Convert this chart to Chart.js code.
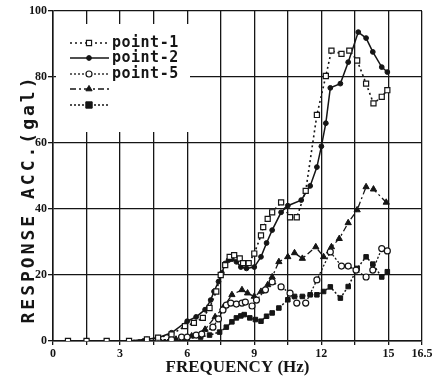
<!DOCTYPE html>
<html>
<head>
<meta charset="utf-8">
<script src="https://cdn.jsdelivr.net/npm/chart.js@4.4.0/dist/chart.umd.min.js"></script>
<style>
  body { margin: 0; background: #fff; }
  #wrap { width: 437px; height: 383px; }
</style>
</head>
<body>
<div id="wrap"><canvas id="myChart" width="437" height="383"></canvas></div>
<script>
// frequency (Hz) / response acc. (gal)
var hz1 = [0.67, 1.5, 2.4, 3.4, 4.2, 4.7, 5.3, 5.9, 6.3, 6.7, 7.0, 7.3, 7.5, 7.7, 7.9, 8.1, 8.35, 8.5, 8.75, 9.0, 9.3, 9.4, 9.6, 9.8, 10.2, 10.6, 10.9, 11.3, 11.8, 12.2, 12.45, 12.9, 13.25, 13.6, 14.0, 14.33, 14.7, 14.95];
var acc1 = [0, 0, 0, 0, 0.5, 1, 2, 4.5, 5.5, 7, 10, 15, 20, 23, 25.5, 26, 25, 23.6, 23.6, 26.5, 32, 34.5, 37, 39, 42, 37.5, 37.5, 45.5, 68.5, 80.3, 88, 87, 88, 85, 78, 72, 74, 76];

var hz2 = [0.67, 1.5, 2.4, 3.4, 4.2, 4.7, 5.3, 6.0, 6.4, 6.8, 7.05, 7.2, 7.4, 7.55, 7.7, 7.85, 8.0, 8.2, 8.4, 8.65, 9.0, 9.3, 9.55, 9.8, 10.2, 10.5, 11.1, 11.5, 11.8, 12.0, 12.2, 12.4, 12.85, 13.2, 13.65, 14.0, 14.3, 14.7, 14.95];
var acc2 = [0, 0, 0, 0, 0.5, 1, 2.5, 6, 7.3, 9.5, 12.4, 15, 18, 20.6, 23.5, 24.5, 24.8, 24, 22.4, 22, 22.4, 25.5, 29.7, 33.6, 39, 41, 42.7, 47, 52.7, 59, 66, 76.7, 78, 84.5, 93.6, 91.8, 87.6, 83, 81.5];

var hz5 = [4.2, 4.7, 5.3, 5.75, 6.0, 6.4, 6.65, 7.15, 7.4, 7.6, 7.75, 7.95, 8.2, 8.45, 8.6, 8.9, 9.1, 9.5, 9.8, 10.2, 10.6, 10.9, 11.3, 11.8, 12.4, 12.9, 13.2, 13.55, 14.0, 14.3, 14.7, 14.95];
var acc5 = [0, 0, 0.5, 1.2, 1.2, 1.8, 2.1, 4.2, 6.7, 9.4, 10.9, 11.5, 11.2, 11.5, 11.8, 10.6, 12.4, 15.5, 17.9, 16.4, 14.5, 11.5, 11.5, 18.5, 27, 22.7, 22.7, 21.5, 19.4, 21.5, 28, 27.3];

var hzTri = [4.7, 5.5, 6.2, 6.8, 7.25, 7.6, 8.0, 8.45, 8.7, 9.0, 9.3, 9.6, 9.8, 10.1, 10.5, 10.8, 11.15, 11.75, 12.1, 12.45, 12.8, 13.2, 13.6, 14.0, 14.33, 14.9];
var accTri = [0, 0.5, 1.5, 3.5, 7.3, 10, 14, 15.5, 14.5, 13.5, 15, 17, 19.4, 24, 25.5, 26.7, 25, 28.5, 25.5, 28.5, 31, 35.8, 39.7, 46.7, 46, 42];

var hzSq = [0.67, 1.5, 2.4, 3.4, 4.1, 4.7, 5.3, 6.0, 6.6, 7.0, 7.45, 7.75, 8.0, 8.2, 8.4, 8.55, 8.8, 9.05, 9.3, 9.55, 9.8, 10.1, 10.5, 10.8, 11.15, 11.5, 11.8, 12.1, 12.4, 12.85, 13.2, 13.6, 14.0, 14.3, 14.7, 14.95];
var accSq = [0, 0, 0, 0, 0, 0.3, 0.5, 0.8, 1.2, 1.8, 2.7, 4.2, 5.8, 7, 7.6, 8, 7, 6.5, 6, 7.5, 8.5, 10, 12.5, 13.5, 13.5, 14, 14, 15, 16.4, 13, 16.5, 22, 25.5, 23.3, 19.4, 21];

var seriesNames = ['point-1', 'point-2', 'point-5', '', ''];
var xGridHz = [0, 1.5, 3, 4.5, 6, 7.5, 9, 10.5, 12, 13.5, 15, 16.5];
var xLabelHz = [0, 3, 6, 9, 12, 15, 16.5];
var yTicks = [0, 20, 40, 60, 80, 100];

var INK = '#151515';

function pts(xs, ys) {
    return xs.map(function (x, i) { return { x: x, y: ys[i] }; });
}

// legend sits inside the plot, on a white patch
var legendBox = {
    id: 'legendBox',
    beforeDatasetsDraw: function (chart) {
        var ctx = chart.ctx;
        ctx.save();
        ctx.fillStyle = '#fff';
        ctx.fillRect(56, 24, 134, 108);
        var rows = [43, 58, 74, 89, 105];
        chart.data.datasets.forEach(function (ds, i) {
            var y = rows[i];
            ctx.strokeStyle = INK;
            ctx.lineWidth = ds.borderWidth;
            ctx.setLineDash(ds.borderDash || []);
            ctx.beginPath();
            ctx.moveTo(70, y);
            ctx.lineTo(109, y);
            ctx.stroke();
            ctx.setLineDash([]);
            ctx.fillStyle = ds.pointBackgroundColor;
            ctx.strokeStyle = INK;
            ctx.lineWidth = ds.pointBorderWidth;
            Chart.helpers.drawPoint(ctx, {
                pointStyle: ds.pointStyle,
                radius: i === 4 ? 4.5 : ds.pointRadius,
                rotation: 0,
                borderWidth: ds.pointBorderWidth
            }, 89, y);
            if (seriesNames[i]) {
                ctx.fillStyle = INK;
                ctx.font = 'bold 15px "DejaVu Sans Mono"';
                ctx.letterSpacing = '0.5px';
                ctx.textBaseline = 'middle';
                ctx.textAlign = 'left';
                ctx.fillText(seriesNames[i], 112, y);
            }
        });
        ctx.restore();
    }
};

// rotated y title, letter spaced like the original
var yTitle = {
    id: 'yTitle',
    afterDraw: function (chart) {
        var ctx = chart.ctx;
        ctx.save();
        ctx.translate(29, 199);
        ctx.rotate(-Math.PI / 2);
        ctx.font = 'bold 18px "DejaVu Sans Mono"';
        ctx.letterSpacing = '3px';
        ctx.fillStyle = INK;
        ctx.textAlign = 'center';
        ctx.textBaseline = 'middle';
        ctx.fillText('RESPONSE ACC.(gal)', 0, 0);
        ctx.restore();
    }
};

var ctx = document.getElementById('myChart').getContext('2d');
var myChart = new Chart(ctx, {
    type: 'line',
    data: {
        datasets: [{
            label: seriesNames[0],
            data: pts(hz1, acc1),
            borderColor: INK,
            borderWidth: 1.6,
            borderDash: [2, 3],
            pointStyle: 'rect',
            pointRadius: 3.6,
            pointBackgroundColor: '#fff',
            pointBorderColor: INK,
            pointBorderWidth: 1.2
        }, {
            label: seriesNames[1],
            data: pts(hz2, acc2),
            borderColor: INK,
            borderWidth: 1.5,
            borderDash: [],
            pointStyle: 'circle',
            pointRadius: 2.4,
            pointBackgroundColor: INK,
            pointBorderColor: INK,
            pointBorderWidth: 1
        }, {
            label: seriesNames[2],
            data: pts(hz5, acc5),
            borderColor: INK,
            borderWidth: 1.3,
            borderDash: [2, 2],
            pointStyle: 'circle',
            pointRadius: 3,
            pointBackgroundColor: '#fff',
            pointBorderColor: INK,
            pointBorderWidth: 1.2
        }, {
            label: seriesNames[3],
            data: pts(hzTri, accTri),
            borderColor: INK,
            borderWidth: 1.3,
            borderDash: [6, 3, 2, 3],
            pointStyle: 'triangle',
            pointRadius: 3.6,
            pointBackgroundColor: INK,
            pointBorderColor: INK,
            pointBorderWidth: 1
        }, {
            label: seriesNames[4],
            data: pts(hzSq, accSq),
            borderColor: INK,
            borderWidth: 1.5,
            borderDash: [2, 2],
            pointStyle: 'rect',
            pointRadius: 3.2,
            pointBackgroundColor: INK,
            pointBorderColor: INK,
            pointBorderWidth: 1
        }]
    },
    options: {
        responsive: false,
        animation: false,
        layout: { padding: { top: 11, right: 15, left: 0, bottom: 0 } },
        elements: { line: { tension: 0, fill: false } },
        scales: {
            x: {
                type: 'linear',
                min: 0,
                max: 16.5,
                afterFit: function (scale) { scale.height = 42; },
                afterBuildTicks: function (scale) {
                    scale.ticks = xGridHz.map(function (v) { return { value: v }; });
                },
                grid: { color: INK, lineWidth: 1.3, tickLength: 4 },
                border: { color: INK, width: 1.5 },
                ticks: {
                    padding: 2,
                    maxRotation: 0,
                    autoSkip: false,
                    color: INK,
                    font: { family: '"Liberation Serif"', size: 12, weight: 'bold' },
                    callback: function (value) {
                        var v = Math.round(value * 10) / 10;
                        return xLabelHz.indexOf(v) >= 0 ? String(v) : '';
                    }
                },
                title: {
                    display: true,
                    text: 'FREQUENCY (Hz)',
                    color: INK,
                    padding: { top: 0, bottom: 5 },
                    font: { family: '"Liberation Serif"', size: 17, weight: 'bold' }
                }
            },
            y: {
                min: 0,
                max: 100,
                afterFit: function (scale) { scale.width = 53; },
                afterBuildTicks: function (scale) {
                    scale.ticks = yTicks.map(function (v) { return { value: v }; });
                },
                grid: { color: INK, lineWidth: 1.3, tickLength: 5 },
                border: { color: INK, width: 1.5 },
                ticks: {
                    padding: 1,
                    color: INK,
                    font: { family: '"Liberation Serif"', size: 12, weight: 'bold' }
                }
            }
        },
        plugins: {
            legend: { display: false },
            tooltip: { enabled: false }
        }
    },
    plugins: [legendBox, yTitle]
});
</script>
</body>
</html>
